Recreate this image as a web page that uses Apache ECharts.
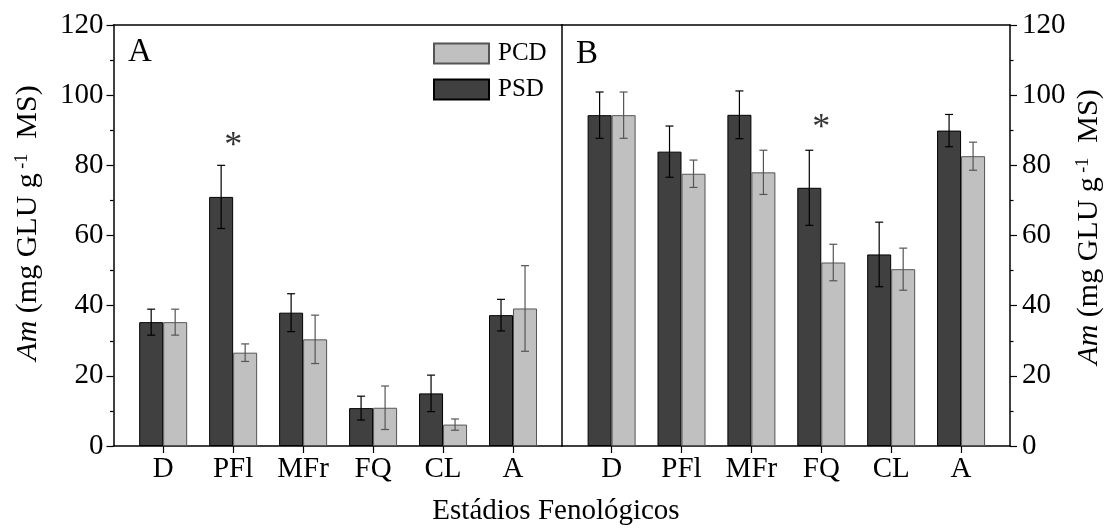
<!DOCTYPE html>
<html>
<head>
<meta charset="utf-8">
<script src="https://cdn.jsdelivr.net/npm/echarts@6/dist/echarts.min.js"></script>
<style>
html,body{margin:0;padding:0;background:#fff;}
#c{width:1110px;height:531px;}
</style>
</head>
<body>
<div id="c"></div>
<script>
// ---- data ----
var categories = ['D', 'PFl', 'MFr', 'FQ', 'CL', 'A'];
var psdA    = [35.3, 71.0, 38.0, 10.8, 15.0, 37.3];
var psdAErr = [3.7, 9.0, 5.4, 3.4, 5.2, 4.5];
var pcdA    = [35.3, 26.6, 30.4, 10.9, 6.1, 39.2];
var pcdAErr = [3.7, 2.5, 6.9, 6.2, 1.6, 12.2];
var psdB    = [94.3, 83.9, 94.4, 73.6, 54.6, 89.9];
var psdBErr = [6.6, 7.3, 6.8, 10.7, 9.2, 4.6];
var pcdB    = [94.3, 77.6, 78.0, 52.3, 50.4, 82.6];
var pcdBErr = [6.6, 3.9, 6.3, 5.2, 6.0, 4.0];
var sigA = ['PFl'];
var sigB = ['FQ'];
var yMin = 0, yMax = 120, yStep = 20;

// ---- styles ----
var FONT = "'Liberation Serif','Times New Roman',serif";
var DARK = '#404040', LIGHT = '#c0c0c0';
var BAR_W = 24;

var chart = echarts.init(document.getElementById('c'), null, {renderer: 'canvas'});

var idx = categories.map(function (c, i) { return i; });

function barData(vals) { return vals.map(function (v, i) { return [i, v]; }); }
function errData(vals, errs) { return vals.map(function (v, i) { return [i, v - errs[i], v + errs[i]]; }); }

function errSeries(name, xi, yi, vals, errs, side, color) {
  return {
    name: name, type: 'custom', xAxisIndex: xi, yAxisIndex: yi, z: 5,
    data: errData(vals, errs),
    renderItem: function (params, api) {
      var lo = api.coord([api.value(0), api.value(1)]);
      var hi = api.coord([api.value(0), api.value(2)]);
      var x = lo[0] + side * BAR_W / 2;
      var cap = 4;
      var st = {stroke: color, lineWidth: 1.2};
      return {
        type: 'group',
        children: [
          {type: 'line', shape: {x1: x, y1: lo[1], x2: x, y2: hi[1]}, style: st},
          {type: 'line', shape: {x1: x - cap, y1: lo[1], x2: x + cap, y2: lo[1]}, style: st},
          {type: 'line', shape: {x1: x - cap, y1: hi[1], x2: x + cap, y2: hi[1]}, style: st}
        ]
      };
    }
  };
}

function sigData(sig, vals, errs) {
  return sig.map(function (c) {
    var i = categories.indexOf(c);
    return [i, vals[i] + errs[i]];
  });
}

function xAxisBase(gi, pos, showLabels) {
  return {
    gridIndex: gi, type: 'value', position: pos, min: -0.71, max: 5.7,
    axisLine: {show: true, onZero: false, lineStyle: {color: '#000', width: 1.5}},
    axisTick: {show: showLabels, customValues: idx, length: 7, inside: false, lineStyle: {color: '#000', width: 1.2}},
    axisLabel: {show: showLabels, customValues: idx, margin: 9,
      formatter: function (v) { return categories[Math.round(v)]; },
      fontFamily: FONT, fontSize: 29, color: '#000'},
    splitLine: {show: false}
  };
}

function yAxisBase(gi, pos, showLabels, margin) {
  return {
    gridIndex: gi, type: 'value', position: pos, min: yMin, max: yMax, interval: yStep,
    axisLine: {show: true, onZero: false, lineStyle: {color: '#000', width: 1.5}},
    axisTick: {show: showLabels, length: 7, lineStyle: {color: '#000', width: 1.2}},
    minorTick: {show: showLabels, splitNumber: 2, length: 3.5, lineStyle: {color: '#000', width: 1.2}},
    axisLabel: {show: showLabels, margin: margin, fontFamily: FONT, fontSize: 29, color: '#000'},
    splitLine: {show: false}
  };
}

var titleRich = {
  i: {fontFamily: FONT, fontSize: 30, fontStyle: 'italic', color: '#000'},
  n: {fontFamily: FONT, fontSize: 30, color: '#000'},
  s: {fontFamily: FONT, fontSize: 18, color: '#000', verticalAlign: 'top', lineHeight: 22}
};
var titleText = '{i|Am}{n| (mg GLU g}{s| -1}{n|  MS)}';

var option = {
  backgroundColor: '#fff',
  animation: false,
  grid: [
    {left: 113.5, right: 1110 - 562, top: 25, bottom: 531 - 446},
    {left: 562, right: 1110 - 1010, top: 25, bottom: 531 - 446}
  ],
  xAxis: [
    xAxisBase(0, 'bottom', true),
    xAxisBase(1, 'bottom', true),
    xAxisBase(0, 'top', false),
    xAxisBase(1, 'top', false)
  ],
  yAxis: [
    yAxisBase(0, 'left', true, 10),
    yAxisBase(0, 'right', false, 0),
    yAxisBase(1, 'right', true, 12)
  ],
  legend: {
    data: ['PCD', 'PSD'], orient: 'vertical', left: 433, top: 41,
    itemWidth: 55, itemHeight: 20, itemGap: 11, padding: 0,
    icon: 'rect',
    textStyle: {fontFamily: FONT, fontSize: 25, color: '#000', padding: [0, 0, 0, 4]}
  },
  graphic: [
    {type: 'text', x: 128, y: 36, style: {text: 'A', fontFamily: FONT, fontSize: 33, fill: '#000'}},
    {type: 'text', x: 576, y: 38, style: {text: 'B', fontFamily: FONT, fontSize: 33, fill: '#000'}},
    {type: 'text', x: 556, y: 497, style: {text: 'Estádios Fenológicos', align: 'center', fontFamily: FONT, fontSize: 29, fill: '#000'}},
    {type: 'text', x: 28, y: 223, rotation: Math.PI / 2,
      style: {text: titleText, rich: titleRich, align: 'center', verticalAlign: 'middle'}},
    {type: 'text', x: 1089, y: 227, rotation: Math.PI / 2,
      style: {text: titleText, rich: titleRich, align: 'center', verticalAlign: 'middle'}}
  ],
  series: [
    {name: 'PSD', type: 'bar', xAxisIndex: 0, yAxisIndex: 0, barWidth: BAR_W, barGap: '0%',
      data: barData(psdA), itemStyle: {color: DARK, borderColor: '#000', borderWidth: 1}},
    {name: 'PCD', type: 'bar', xAxisIndex: 0, yAxisIndex: 0, barWidth: BAR_W, barGap: '0%',
      data: barData(pcdA), itemStyle: {color: LIGHT, borderColor: '#555', borderWidth: 1}},
    {name: 'PSD', type: 'bar', xAxisIndex: 1, yAxisIndex: 2, barWidth: BAR_W, barGap: '0%',
      data: barData(psdB), itemStyle: {color: DARK, borderColor: '#000', borderWidth: 1}},
    {name: 'PCD', type: 'bar', xAxisIndex: 1, yAxisIndex: 2, barWidth: BAR_W, barGap: '0%',
      data: barData(pcdB), itemStyle: {color: LIGHT, borderColor: '#555', borderWidth: 1}},
    errSeries('errPSDA', 0, 0, psdA, psdAErr, -1, '#000'),
    errSeries('errPCDA', 0, 0, pcdA, pcdAErr, 1, '#555'),
    errSeries('errPSDB', 1, 2, psdB, psdBErr, -1, '#000'),
    errSeries('errPCDB', 1, 2, pcdB, pcdBErr, 1, '#555'),
    {name: 'sigA', type: 'scatter', xAxisIndex: 0, yAxisIndex: 0, symbolSize: 0, z: 6,
      data: sigData(sigA, psdA, psdAErr),
      label: {show: true, position: 'top', distance: 1, formatter: '*', fontFamily: FONT, fontSize: 36, color: '#000'}},
    {name: 'sigB', type: 'scatter', xAxisIndex: 1, yAxisIndex: 2, symbolSize: 0, z: 6,
      data: sigData(sigB, psdB, psdBErr),
      label: {show: true, position: 'top', distance: 4, formatter: '*', fontFamily: FONT, fontSize: 36, color: '#000'}}
  ]
};
chart.setOption(option);
</script>
</body>
</html>
